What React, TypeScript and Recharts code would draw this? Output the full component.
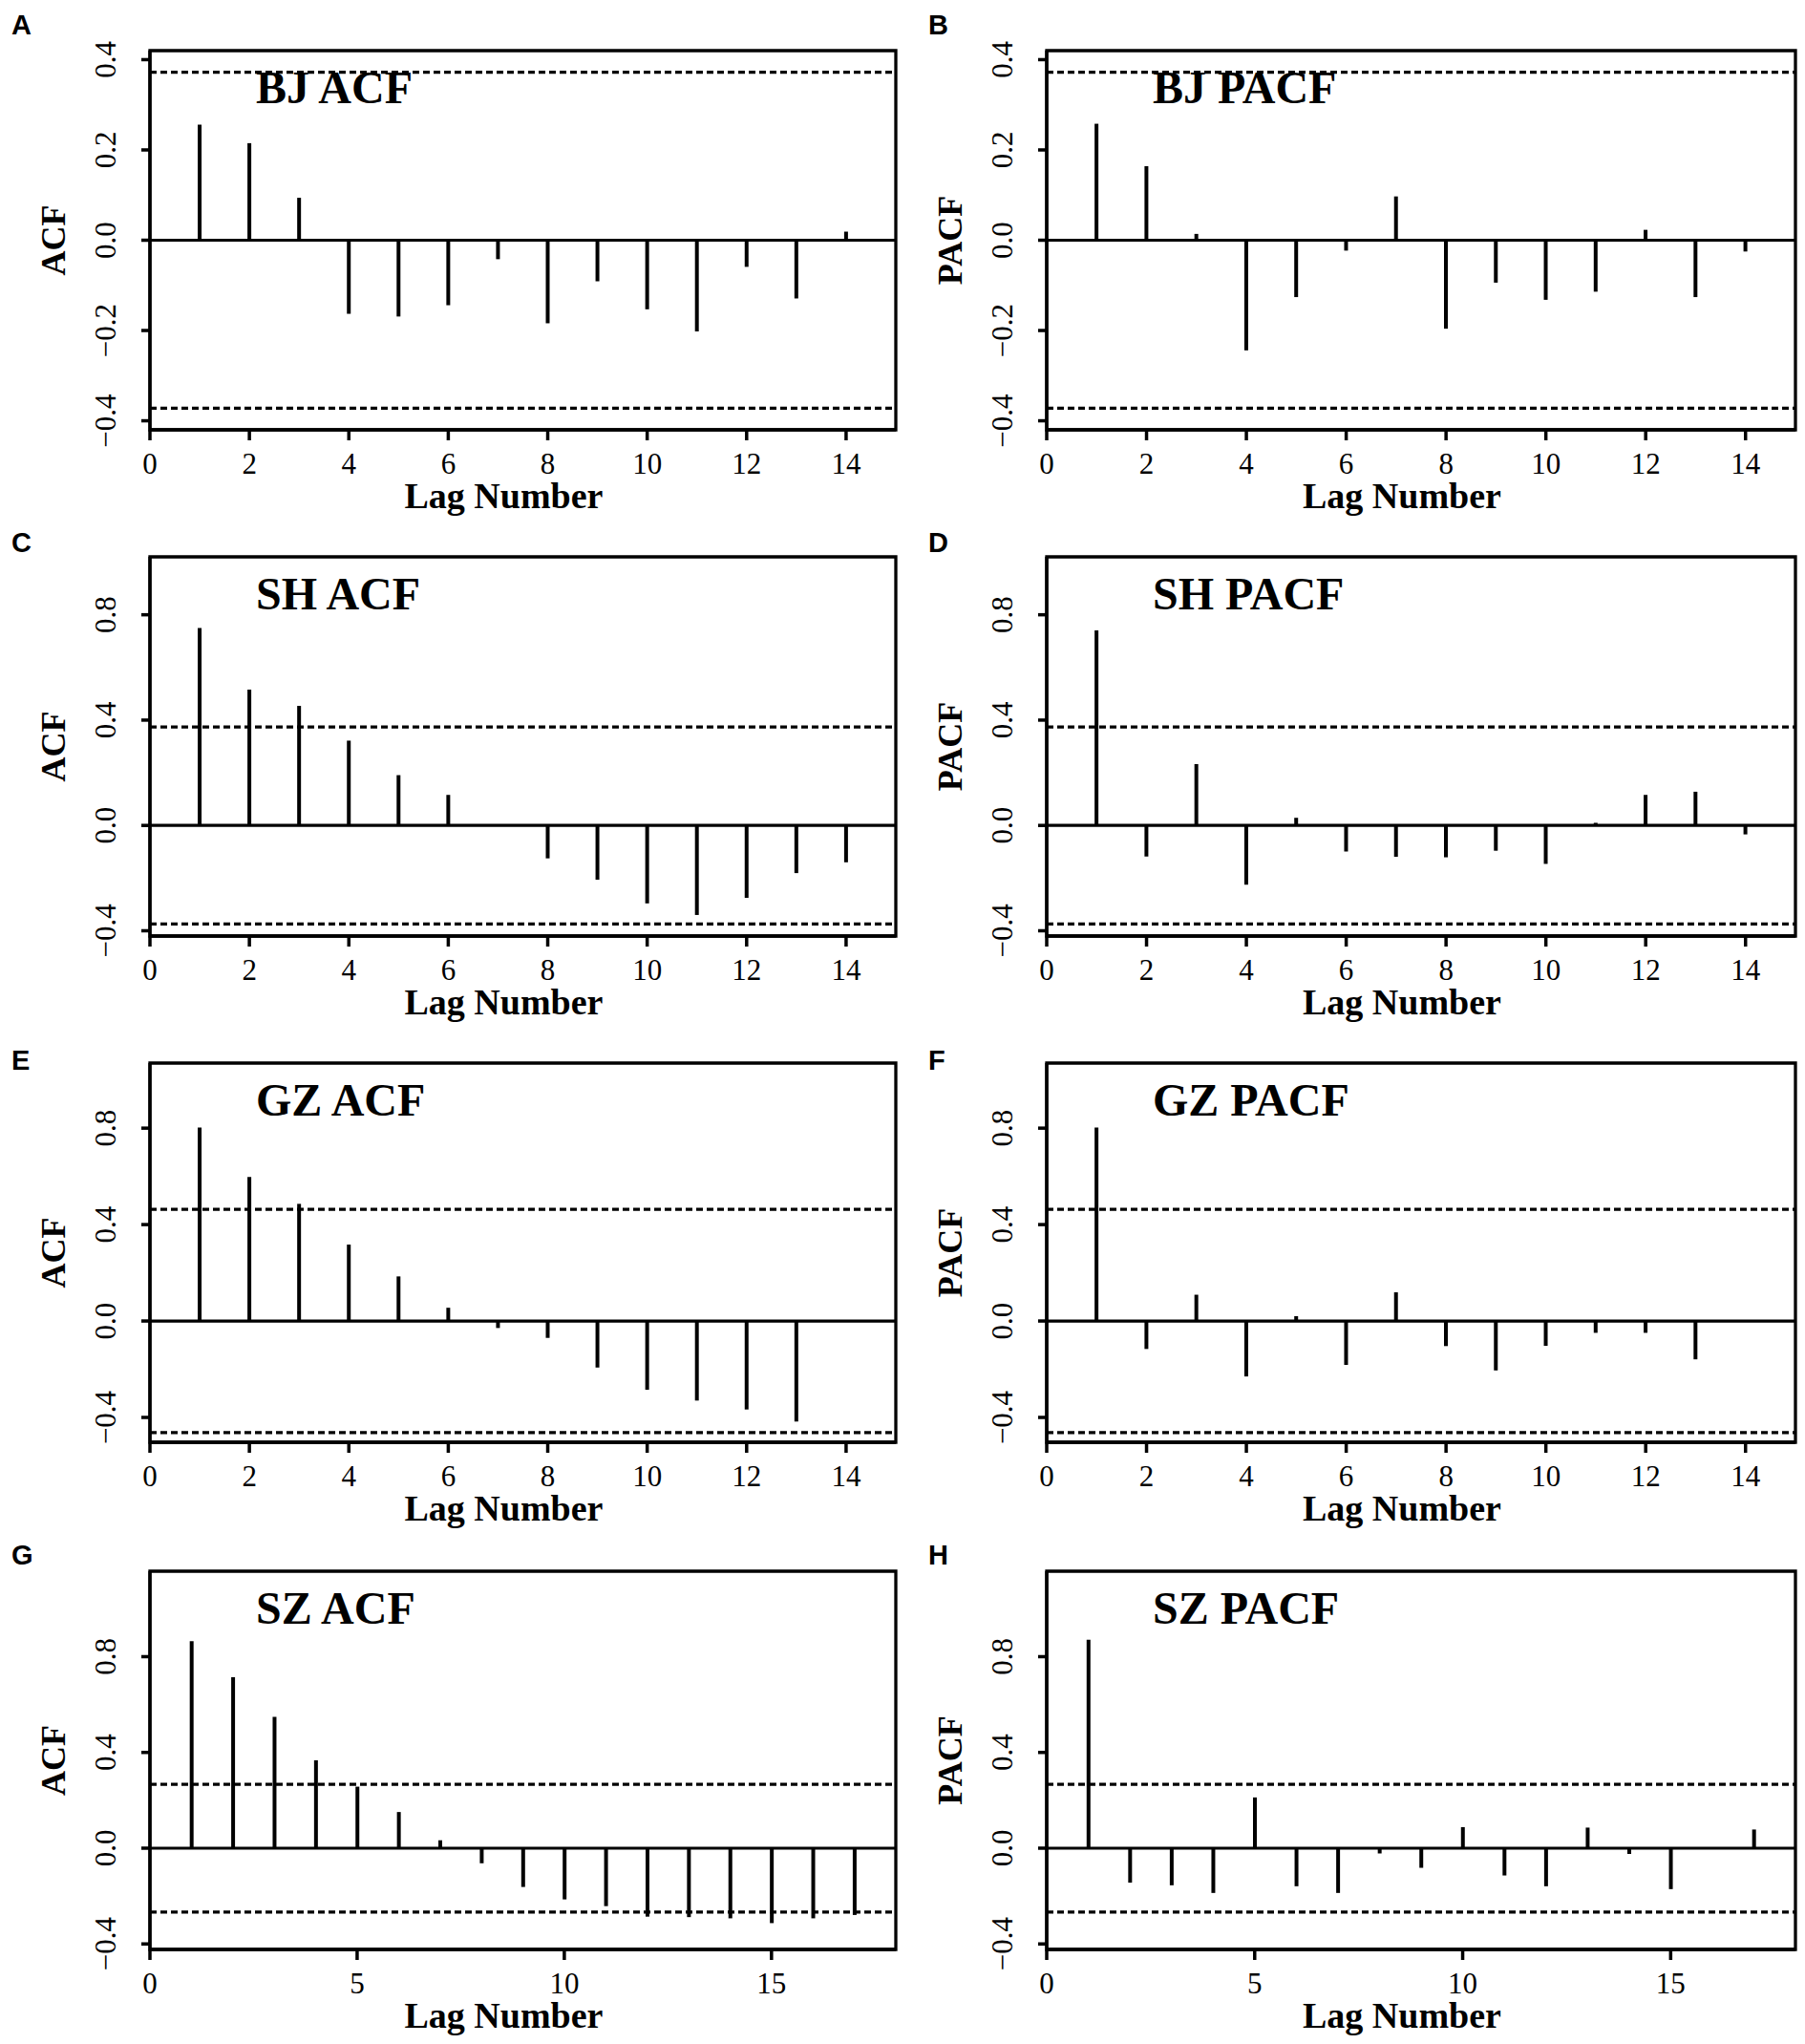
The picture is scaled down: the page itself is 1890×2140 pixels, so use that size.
import React from 'react';
import { ComposedChart, Bar, XAxis, YAxis, ReferenceLine, ReferenceArea } from 'recharts';

// ---------- data ----------
const lags13 = [1, 2, 3, 4, 5, 6, 7, 8, 9, 10, 11, 12, 13];
const lags14 = [1, 2, 3, 4, 5, 6, 7, 8, 9, 10, 11, 12, 13, 14];
const lags17 = [1, 2, 3, 4, 5, 6, 7, 8, 9, 10, 11, 12, 13, 14, 15, 16, 17];

const bjAcf = [0.256, 0.215, 0.094, -0.163, -0.169, -0.144, -0.042, -0.184, -0.091, -0.153, -0.202, -0.059, -0.129, 0.019];
const bjPacf = [0.258, 0.164, 0.014, -0.244, -0.126, -0.023, 0.097, -0.196, -0.094, -0.132, -0.114, 0.023, -0.126, -0.025];
const shAcf = [0.75, 0.516, 0.454, 0.322, 0.191, 0.116, 0.004, -0.125, -0.206, -0.296, -0.34, -0.275, -0.181, -0.14];
const shPacf = [0.741, -0.118, 0.233, -0.225, 0.029, -0.099, -0.119, -0.121, -0.096, -0.146, 0.01, 0.116, 0.128, -0.034];
const gzAcf = [0.803, 0.598, 0.486, 0.317, 0.185, 0.055, -0.029, -0.07, -0.193, -0.285, -0.33, -0.367, -0.417];
const gzPacf = [0.803, -0.116, 0.109, -0.23, 0.02, -0.182, 0.119, -0.104, -0.205, -0.103, -0.049, -0.049, -0.159];
const szAcf = [0.865, 0.714, 0.549, 0.367, 0.257, 0.151, 0.033, -0.063, -0.162, -0.214, -0.242, -0.286, -0.288, -0.293, -0.313, -0.293, -0.279];
const szPacf = [0.871, -0.144, -0.155, -0.187, 0.212, -0.159, -0.187, -0.022, -0.082, 0.088, -0.114, -0.159, 0.086, -0.024, -0.171, 0.0, 0.078];

const bjBound = 0.372;
const shBound = 0.374;
const gzBound = 0.463;
const szBound = 0.267;

const xTicksEven = [0, 2, 4, 6, 8, 10, 12, 14];
const xTicksFive = [0, 5, 10, 15];
const yTicksSmall = [-0.4, -0.2, 0, 0.2, 0.4];
const yTicksLarge = [-0.4, 0, 0.4, 0.8];

const xDomain14: [number, number] = [0, 15];
const xDomain17: [number, number] = [0, 18];
const yDomainBJ: [number, number] = [-0.42, 0.42];
const yDomainSH: [number, number] = [-0.42, 1.02];
const yDomainGZ: [number, number] = [-0.503, 1.07];
const yDomainSZ: [number, number] = [-0.423, 1.157];

// ---------- style ----------
const SERIF = '"Liberation Serif", "Times New Roman", Times, serif';
const SANS = '"Liberation Sans", Arial, Helvetica, sans-serif';

const fmt = (v: number) => {
  const s = Math.abs(v).toFixed(1);
  return v < 0 ? '\u2212' + s : s;
};

const YTick = (props: any) => {
  const { x, y, payload } = props;
  return (
    <text
      transform={`translate(${x - 27},${y}) rotate(-90)`}
      textAnchor="middle"
      fontFamily={SERIF}
      fontSize={31}
      fill="#000"
    >
      {fmt(payload.value)}
    </text>
  );
};

type PanelProps = {
  letter: string;
  title: string;
  yLabel: string;
  lags: number[];
  values: number[];
  bound: number;
  xDomain: [number, number];
  xTicks: number[];
  yDomain: [number, number];
  yTicks: number[];
  left: number;
  top: number;
  width: number;
  height: number;
  plotLeft: number;
  plotTop: number;
  plotRight: number;
  plotBottom: number;
  letterX: number;
  letterY: number;
};

function Panel(p: PanelProps) {
  const data = p.lags.map((lag, i) => ({ lag, v: p.values[i] }));
  const xAxisH = p.height - p.plotBottom;
  return (
    <div style={{ position: 'absolute', left: p.left, top: p.top, width: p.width, height: p.height }}>
      <ComposedChart
        width={p.width}
        height={p.height}
        data={data}
        margin={{ top: p.plotTop, right: p.width - p.plotRight, bottom: 0, left: 0 }}
      >
        <XAxis
          type="number"
          dataKey="lag"
          domain={p.xDomain}
          ticks={p.xTicks}
          allowDataOverflow
          interval={0}
          height={xAxisH}
          tickSize={11}
          tickMargin={13}
          axisLine={{ stroke: '#000', strokeWidth: 3.3 }}
          tickLine={{ stroke: '#000', strokeWidth: 3.5 }}
          tick={{ fill: '#000', fontSize: 31, fontFamily: SERIF }}
          label={(lp: any) => {
            const vb = lp.viewBox;
            return (
              <text
                x={vb.x + vb.width / 2 - 20}
                y={vb.y + 82}
                textAnchor="middle"
                fontFamily={SERIF}
                fontWeight="bold"
                fontSize={38}
                fill="#000"
              >
                Lag Number
              </text>
            );
          }}
        />
        <YAxis
          type="number"
          domain={p.yDomain}
          ticks={p.yTicks}
          allowDataOverflow
          interval={0}
          width={p.plotLeft}
          tickSize={9}
          tickMargin={0}
          axisLine={{ stroke: '#000', strokeWidth: 3.3 }}
          tickLine={{ stroke: '#000', strokeWidth: 3.5 }}
          tick={<YTick />}
          label={(lp: any) => {
            const vb = lp.viewBox;
            const cx = vb.x + vb.width - 89;
            const cy = vb.y + vb.height / 2;
            return (
              <text
                transform={`translate(${cx},${cy}) rotate(-90)`}
                textAnchor="middle"
                fontFamily={SERIF}
                fontWeight="bold"
                fontSize={36}
                fill="#000"
              >
                {p.yLabel}
              </text>
            );
          }}
        />
        <ReferenceArea
          x1={p.xDomain[0]}
          x2={p.xDomain[1]}
          y1={p.yDomain[0]}
          y2={p.yDomain[1]}
          fill="#fff"
          fillOpacity={0}
          stroke="#000"
          strokeWidth={3.3}
          ifOverflow="visible"
          label={(lp: any) => {
            const vb = lp.viewBox;
            return (
              <g>
                <text
                  x={vb.x + 111}
                  y={vb.y + 55}
                  fontFamily={SERIF}
                  fontWeight="bold"
                  fontSize={48}
                  fill="#000"
                >
                  {p.title}
                </text>
                <text
                  x={vb.x - p.plotLeft + p.letterX}
                  y={vb.y - p.plotTop + p.letterY}
                  fontFamily={SANS}
                  fontWeight="bold"
                  fontSize={29}
                  fill="#000"
                >
                  {p.letter}
                </text>
              </g>
            );
          }}
        />
        <ReferenceLine y={p.bound} stroke="#000" strokeWidth={3.3} strokeDasharray="7 4" ifOverflow="visible" />
        <ReferenceLine y={-p.bound} stroke="#000" strokeWidth={3.3} strokeDasharray="7 4" ifOverflow="visible" />
        <ReferenceLine y={0} stroke="#000" strokeWidth={3.2} ifOverflow="visible" />
        <Bar dataKey="v" fill="#000" barSize={4} isAnimationActive={false} />
      </ComposedChart>
    </div>
  );
}

const leftCol = { left: 0, width: 945, plotLeft: 157, plotRight: 938, letterX: 12 };
const rightCol = { left: 945, width: 945, plotLeft: 151, plotRight: 935, letterX: 27 };
const row1 = { top: 0, height: 545, plotTop: 53, plotBottom: 450, letterY: 36 };
const row2 = { top: 530, height: 545, plotTop: 53, plotBottom: 450, letterY: 48 };
const row3 = { top: 1060, height: 545, plotTop: 53, plotBottom: 450, letterY: 60 };
const row4 = { top: 1600, height: 540, plotTop: 45, plotBottom: 441, letterY: 38 };

const panels: PanelProps[] = [
  { ...leftCol, ...row1, letter: 'A', title: 'BJ ACF', yLabel: 'ACF', lags: lags14, values: bjAcf, bound: bjBound, xDomain: xDomain14, xTicks: xTicksEven, yDomain: yDomainBJ, yTicks: yTicksSmall },
  { ...rightCol, ...row1, letter: 'B', title: 'BJ PACF', yLabel: 'PACF', lags: lags14, values: bjPacf, bound: bjBound, xDomain: xDomain14, xTicks: xTicksEven, yDomain: yDomainBJ, yTicks: yTicksSmall },
  { ...leftCol, ...row2, letter: 'C', title: 'SH ACF', yLabel: 'ACF', lags: lags14, values: shAcf, bound: shBound, xDomain: xDomain14, xTicks: xTicksEven, yDomain: yDomainSH, yTicks: yTicksLarge },
  { ...rightCol, ...row2, letter: 'D', title: 'SH PACF', yLabel: 'PACF', lags: lags14, values: shPacf, bound: shBound, xDomain: xDomain14, xTicks: xTicksEven, yDomain: yDomainSH, yTicks: yTicksLarge },
  { ...leftCol, ...row3, letter: 'E', title: 'GZ ACF', yLabel: 'ACF', lags: lags13, values: gzAcf, bound: gzBound, xDomain: xDomain14, xTicks: xTicksEven, yDomain: yDomainGZ, yTicks: yTicksLarge },
  { ...rightCol, ...row3, letter: 'F', title: 'GZ PACF', yLabel: 'PACF', lags: lags13, values: gzPacf, bound: gzBound, xDomain: xDomain14, xTicks: xTicksEven, yDomain: yDomainGZ, yTicks: yTicksLarge },
  { ...leftCol, ...row4, letter: 'G', title: 'SZ ACF', yLabel: 'ACF', lags: lags17, values: szAcf, bound: szBound, xDomain: xDomain17, xTicks: xTicksFive, yDomain: yDomainSZ, yTicks: yTicksLarge },
  { ...rightCol, ...row4, letter: 'H', title: 'SZ PACF', yLabel: 'PACF', lags: lags17, values: szPacf, bound: szBound, xDomain: xDomain17, xTicks: xTicksFive, yDomain: yDomainSZ, yTicks: yTicksLarge },
];

export default function App() {
  return (
    <div style={{ position: 'absolute', left: 0, top: 0, width: 1890, height: 2140, background: '#fff' }}>
      {panels.map((p) => (
        <Panel key={p.letter} {...p} />
      ))}
    </div>
  );
}
